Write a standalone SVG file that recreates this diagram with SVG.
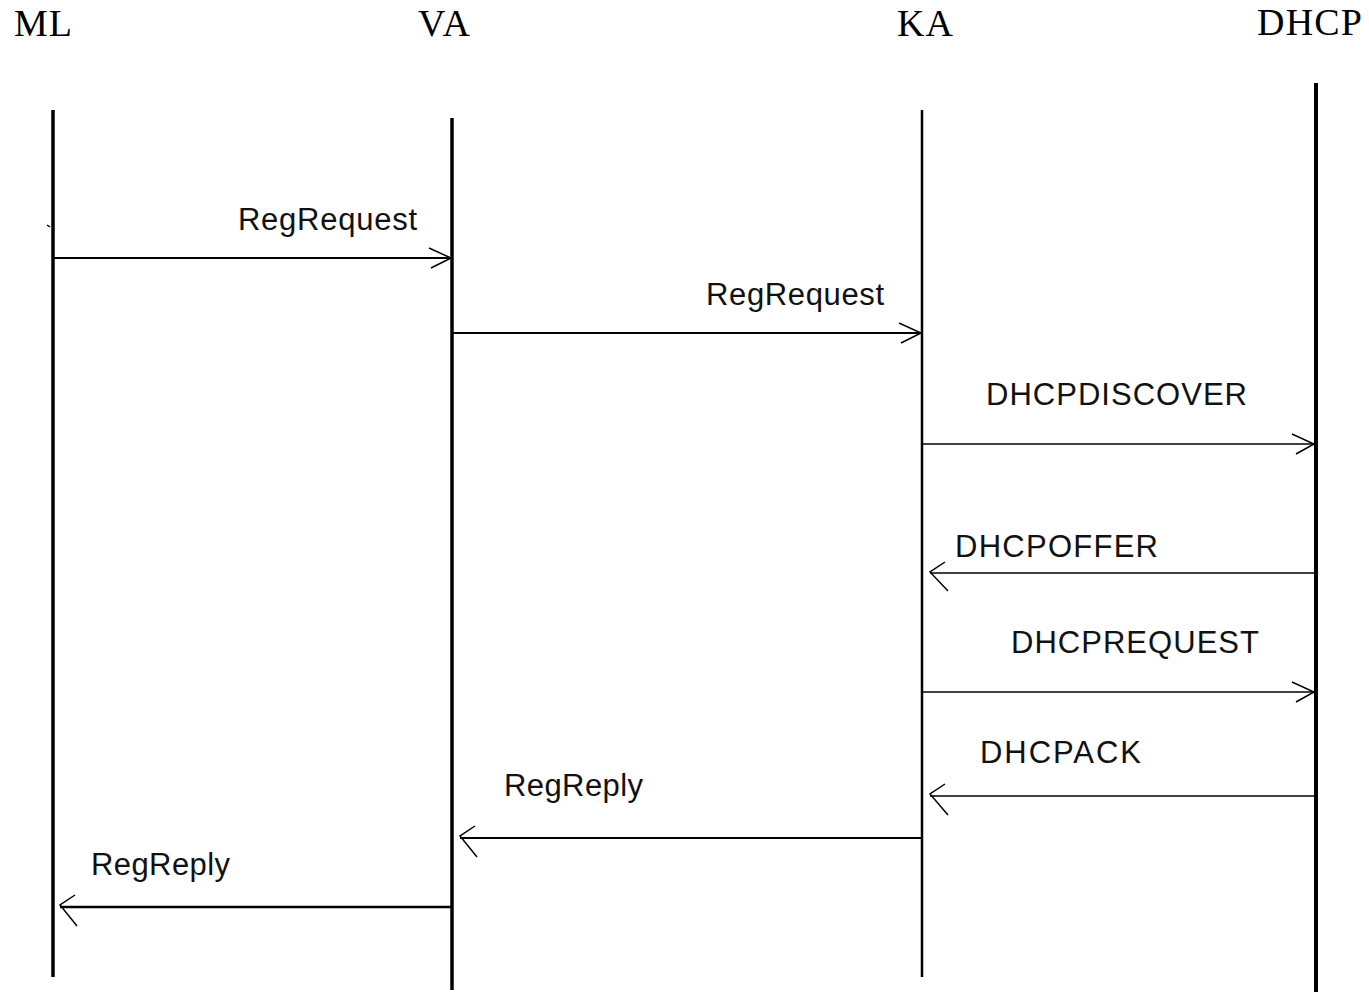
<svg xmlns="http://www.w3.org/2000/svg" width="1369" height="992" viewBox="0 0 1369 992">
<style>
.hdr{font-family:"Liberation Serif",serif;font-size:38px;fill:#000}
.lbl{font-family:"Liberation Sans",Arial,sans-serif;font-size:31px;fill:#111}
.life{stroke:#000;fill:none}
.msg{stroke:#000;fill:none}
.head{stroke:#000;fill:none;stroke-width:1.5}
</style>
<rect width="1369" height="992" fill="#fff"/>
<g id="ML"><text class="hdr" x="14" y="36" textLength="58">ML</text><line class="life" x1="53" y1="110" x2="53" y2="977" stroke-width="3.5"/><path d="M47 225 L50 227" stroke="#000" stroke-width="1.5"/></g>
<g id="VA"><text class="hdr" x="418" y="36" textLength="52">VA</text><line class="life" x1="452" y1="118" x2="452" y2="990" stroke-width="3.5"/></g>
<g id="KA"><text class="hdr" x="897" y="36" textLength="56">KA</text><line class="life" x1="922" y1="110" x2="922" y2="977" stroke-width="2.5"/></g>
<g id="DHCP"><text class="hdr" x="1257" y="35" textLength="105">DHCP</text><line class="life" x1="1316" y1="83" x2="1316" y2="992" stroke-width="4"/></g>
<g id="connectors">
<line class="msg" x1="53" y1="258" x2="451" y2="258" stroke-width="2"/><path class="head" d="M429 248 L451 258 L431 268"/>
<text class="lbl" x="238" y="230" textLength="179">RegRequest</text>
<line class="msg" x1="452" y1="333" x2="921" y2="333" stroke-width="2"/><path class="head" d="M899 323 L921 333 L901 343"/>
<text class="lbl" x="706" y="305" textLength="178">RegRequest</text>
<line class="msg" x1="922" y1="444" x2="1314" y2="444" stroke-width="1.5"/><path class="head" d="M1292 434 L1314 444 L1296 454"/>
<text class="lbl" x="986" y="405" textLength="261">DHCPDISCOVER</text>
<line class="msg" x1="930" y1="573" x2="1316" y2="573" stroke-width="1.5"/><path class="head" d="M945 562 L930 572 L948 591"/>
<text class="lbl" x="955" y="557" textLength="203">DHCPOFFER</text>
<line class="msg" x1="922" y1="692" x2="1314" y2="692" stroke-width="1.5"/><path class="head" d="M1292 682 L1314 692 L1296 702"/>
<text class="lbl" x="1011" y="653" textLength="248">DHCPREQUEST</text>
<line class="msg" x1="930" y1="796" x2="1316" y2="796" stroke-width="1.5"/><path class="head" d="M945 784 L930 794 L948 815"/>
<text class="lbl" x="980" y="763" textLength="161">DHCPACK</text>
<line class="msg" x1="460" y1="838" x2="922" y2="838" stroke-width="2"/><path class="head" d="M475 826 L460 836 L477 857"/>
<text class="lbl" x="504" y="796" textLength="139">RegReply</text>
<line class="msg" x1="60" y1="907" x2="452" y2="907" stroke-width="2.5"/><path class="head" d="M75 895 L60 905 L77 926"/>
<text class="lbl" x="91" y="875" textLength="139">RegReply</text>
</g>
</svg>
